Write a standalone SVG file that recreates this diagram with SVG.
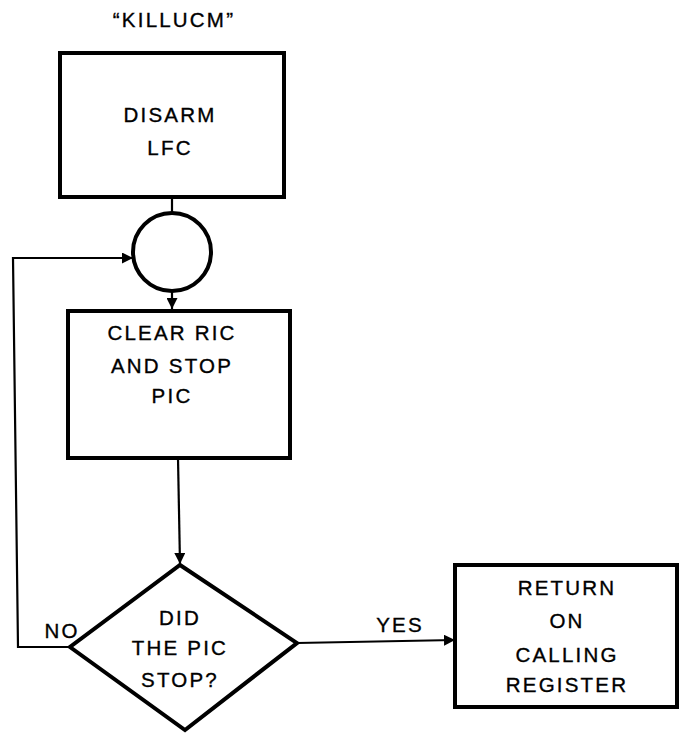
<svg xmlns="http://www.w3.org/2000/svg" width="681" height="734" viewBox="0 0 681 734">
<defs>
<style>
.box{fill:none;stroke:#000;stroke-width:4}
.ln{fill:none;stroke:#000;stroke-width:2.2}
text{font-family:"Liberation Sans",Arial,sans-serif;font-size:20.5px;fill:#000;stroke:#000;stroke-width:0.35;text-anchor:middle;letter-spacing:2.2px}
</style>
<marker id="ah" viewBox="0 0 10 10" refX="10" refY="5" markerWidth="11" markerHeight="11" markerUnits="userSpaceOnUse" orient="auto">
<path d="M0,0 L10,5 L0,10 Z" fill="#000"/>
</marker>
</defs>
<rect width="681" height="734" fill="#fff"/>
<text x="174" y="27">“KILLUCM”</text>
<g id="connectors">
<line class="ln" x1="172" y1="197" x2="172" y2="213"/>
<line class="ln" x1="172" y1="291" x2="172" y2="309" marker-end="url(#ah)"/>
<polyline class="ln" points="70,647 18,647 13,258 133,258" marker-end="url(#ah)"/>
<line class="ln" x1="178" y1="458" x2="180" y2="564" marker-end="url(#ah)"/>
<line class="ln" x1="297" y1="643" x2="455" y2="640" marker-end="url(#ah)"/>
<text x="62" y="638">NO</text>
<text x="400" y="632">YES</text>
</g>
<g id="disarm">
<rect class="box" x="60" y="53" width="224" height="144"/>
<text x="170" y="122">DISARM</text>
<text x="170" y="155">LFC</text>
</g>
<g id="connector-circle">
<circle class="box" cx="172" cy="252" r="39"/>
</g>
<g id="clear">
<rect class="box" x="68" y="311" width="222" height="147"/>
<text x="172" y="340">CLEAR RIC</text>
<text x="172" y="373">AND STOP</text>
<text x="172" y="403">PIC</text>
</g>
<g id="decision">
<polygon class="box" points="180,565 297,643 185,730 70,647"/>
<text x="180" y="625">DID</text>
<text x="180" y="655">THE PIC</text>
<text x="180" y="687">STOP?</text>
</g>
<g id="return">
<rect class="box" x="455" y="565" width="222" height="142"/>
<text x="567" y="595">RETURN</text>
<text x="567" y="628">ON</text>
<text x="567" y="662">CALLING</text>
<text x="567" y="692">REGISTER</text>
</g>
</svg>
